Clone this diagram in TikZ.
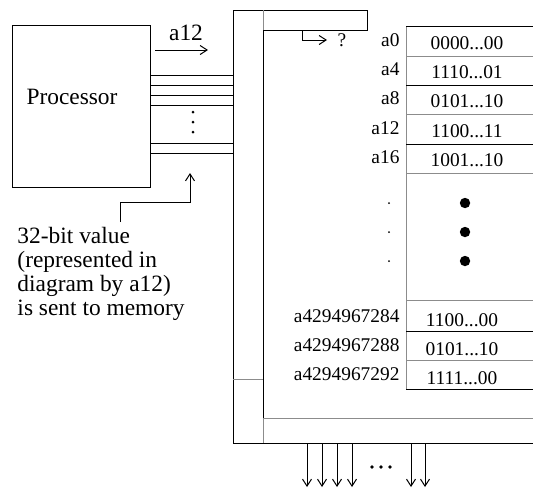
\documentclass[tikz,border=0pt]{standalone}
\usepackage{fontspec}
\setmainfont{Liberation Serif}
\usetikzlibrary{arrows.meta}
\begin{document}
\begin{tikzpicture}[x=0.5pt,y=-0.5pt,line width=0.5pt,
  arr/.style={-{Straight Barb[length=3.5pt,width=4.5pt]}},
  gline/.style={draw=black!45},
  bigfont/.style={font=\fontsize{11.7pt}{11.9pt}\selectfont},
  memfont/.style={font=\fontsize{9.7pt}{10pt}\selectfont},
  addr/.style={memfont,anchor=east,inner sep=0pt},
  val/.style={memfont,anchor=center,inner sep=0pt},
  bigdot/.style={fill=black,draw=none},
]
\useasboundingbox (0,0) rectangle (533,489);

% Processor
\node[draw,minimum width=69pt,minimum height=81pt,inner sep=0pt,outer sep=0pt] (proc) at (81,106) {};
\node[bigfont,inner sep=0pt] (proclabel) at (72,97) {Processor};

% address arrow
\coordinate (a12s) at (155,50);
\coordinate (a12e) at (208,50);
\draw[arr] (a12s) -- (a12e);
\node[bigfont,inner sep=0pt] (a12lab) at (186,33) {a12};

% bus lines
\foreach \yy in {75,85,95,105,143,153}{
  \draw (proc.east |- 0,\yy) -- (233,\yy);
}
\foreach \yy in {112,122,132}{
  \fill (193,\yy) circle[radius=0.75pt];
}

% value arrow
\node[bigfont,align=left,anchor=north west,inner sep=0pt] (vallab) at (17,227)
  {32-bit value\\(represented in\\diagram by a12)\\is sent to memory};
\coordinate (vbend1) at (120,202);
\coordinate (vend) at (190,173);
\draw[arr] (120,222) -- (vbend1) -- (190,202) -- (vend);

% memory frame
\draw (233,443) -- (233,10) -- (367,10) -- (367,30) -- (263,30) -- (263,418) -- (533,418);
\draw (233,443) -- (533,443);
\draw[gline] (263,10) -- (263,30);
\draw[gline] (233,379) -- (263,379);
\draw[gline] (263,418) -- (263,443);
\draw[gline] (263,418) -- (533,418);

% ? arrow
\draw[arr] (302,30) -- (302,40) -- (327,40);
\node[memfont,inner sep=0pt] (q) at (342,40) {?};

% memory table
\draw[gline] (406,26) -- (406,389);
\foreach \yy in {26,85,144,331,389}{ \draw (406,\yy) -- (533,\yy); }
\foreach \yy in {56,114,173,300,360}{ \draw[gline] (406,\yy) -- (533,\yy); }

\node[addr] (l0) at (400,40) {a0};
\node[addr] (l4) at (400,69) {a4};
\node[addr] (l8) at (400,98) {a8};
\node[addr] (l12) at (400,128) {a12};
\node[addr] (l16) at (400,157) {a16};
\node[val] (v0) at (467,43) {0000...00};
\node[val] (v4) at (467,72) {1110...01};
\node[val] (v8) at (467,101) {0101...10};
\node[val] (v12) at (467,131) {1100...11};
\node[val] (v16) at (467,160) {1001...10};

\foreach \yy in {203,232,261}{
  \fill[bigdot] (465,\yy) circle[radius=2.6pt];
  \fill (389,\yy) circle[radius=0.5pt];
}

\node[addr] (lA) at (400,316) {a4294967284};
\node[addr] (lB) at (400,345) {a4294967288};
\node[addr] (lC) at (400,374) {a4294967292};
\node[val] (vA) at (462,320) {1100...00};
\node[val] (vB) at (462,349) {0101...10};
\node[val] (vC) at (462,378) {1111...00};

% output arrows
\foreach \xx in {307,322,337,352,411,425}{
  \draw[arr] (\xx,443) -- (\xx,487);
}
\foreach \xx in {372,381,390}{
  \fill (\xx,467) circle[radius=0.9pt];
}
\end{tikzpicture}
\end{document}
